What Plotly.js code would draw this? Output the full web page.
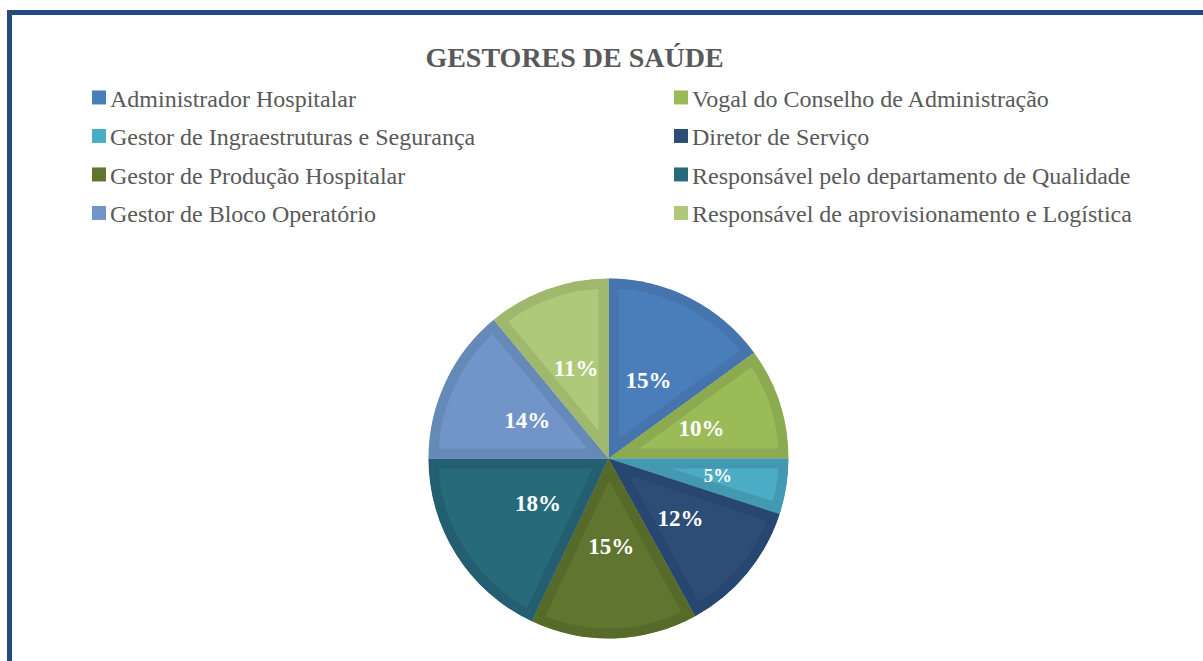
<!DOCTYPE html>
<html>
<head>
<meta charset="utf-8">
<script src="https://cdn.plot.ly/plotly-3.0.1.min.js"></script>
<style>
  html, body { margin:0; padding:0; width:1203px; height:661px; overflow:hidden; background:#fff; }
  #frame { position:absolute; left:7px; top:10px; width:1300px; height:800px; border:5px solid #264A7B; box-sizing:border-box; background:#fff; }
  #chart { position:absolute; left:0; top:0; width:1203px; height:661px; }
</style>
</head>
<body>
<div id="frame"></div>
<div id="chart"></div>
<script>
const categories = [
  "Administrador Hospitalar",
  "Vogal do Conselho de Administração",
  "Gestor de Ingraestruturas e Segurança",
  "Diretor de Serviço",
  "Gestor de Produção Hospitalar",
  "Responsável pelo departamento de Qualidade",
  "Gestor de Bloco Operatório",
  "Responsável de aprovisionamento e Logística"
];
const values = [15, 10, 5, 12, 15, 18, 14, 11];
const fillColors = ["#4A7EBB", "#9BBB59", "#4BACC6", "#2C4D75", "#5F7530", "#276A7C", "#7295C9", "#AFC97A"];
const bandColors = ["#4674AD", "#8CAA50", "#4399B1", "#284770", "#566B2A", "#235F70", "#668AB8", "#9FB86E"];

// main pie (slices + legend)
const pieTrace = {
  type: 'pie',
  labels: categories,
  values: values,
  sort: false,
  direction: 'clockwise',
  rotation: 0,
  textinfo: 'none',
  marker: { colors: fillColors, line: { color: bandColors, width: 20 } },
  domain: { x: [0.3562, 0.6554], y: [0.034, 0.5787] },
  hoverinfo: 'none'
};

// transparent inner ring of the same data carrying the percentage labels
const labelTrace = {
  type: 'pie',
  labels: categories,
  values: values,
  sort: false,
  direction: 'clockwise',
  rotation: 0,
  showlegend: false,
  texttemplate: '%{percent:.0%}',
  textposition: 'inside',
  insidetextorientation: 'horizontal',
  insidetextfont: { family: 'Liberation Serif', size: 23, color: '#FFFFFF', weight: 'bold' },
  marker: { colors: categories.map(() => 'rgba(0,0,0,0)'), line: { width: 0 } },
  domain: { x: [0.3994, 0.6122], y: [0.1127, 0.5] },
  hoverinfo: 'none'
};

const layout = {
  width: 1203, height: 661,
  margin: { l: 0, r: 0, t: 0, b: 0 },
  paper_bgcolor: 'rgba(0,0,0,0)',
  plot_bgcolor: 'rgba(0,0,0,0)',
  title: {
    text: 'GESTORES DE SAÚDE',
    x: 0.4776, xanchor: 'center', xref: 'paper',
    y: 0.914, yanchor: 'middle', yref: 'container',
    font: { family: 'Liberation Serif', size: 28, color: '#595959', weight: 'bold' }
  },
  showlegend: true,
  legend: {
    orientation: 'h',
    x: 0, xanchor: 'left',
    y: 0.886, yanchor: 'top',
    entrywidth: 537, entrywidthmode: 'pixels',
    font: { family: 'Liberation Serif', size: 24, color: '#595959' },
    bgcolor: 'rgba(0,0,0,0)'
  }
};

Plotly.newPlot('chart', [pieTrace, labelTrace], layout, { displayModeBar: false, staticPlot: true }).then(function(gd) {
  const ns = 'http://www.w3.org/2000/svg';
  const defs = gd.querySelector('svg.main-svg defs');
  // keep the darker slice outline inside each slice (Excel-style inner border)
  gd.querySelectorAll('g.pielayer g.slice path.surface').forEach(function(p, i) {
    const cp = document.createElementNS(ns, 'clipPath');
    cp.setAttribute('id', 'sliceclip' + i);
    const cpath = document.createElementNS(ns, 'path');
    cpath.setAttribute('d', p.getAttribute('d'));
    if (p.getAttribute('transform')) cpath.setAttribute('transform', p.getAttribute('transform'));
    cp.appendChild(cpath);
    defs.appendChild(cp);
    p.setAttribute('clip-path', 'url(#sliceclip' + i + ')');
  });
  // legend: square keys close to the text, wider row spacing, shifted right
  gd.querySelectorAll('g.legend g.legendpoints path').forEach(function(p) {
    p.style.strokeWidth = '0px';
    p.setAttribute('d', 'M16,7H2V-7H16Z');
  });
  const items = Array.from(gd.querySelectorAll('g.legend g.traces'));
  const parse = t => { const m = /translate\(\s*([-\d.e]+)[ ,]+([-\d.e]+)\s*\)/.exec(t || ''); return m ? [parseFloat(m[1]), parseFloat(m[2])] : [0, 0]; };
  const ys = Array.from(new Set(items.map(it => parse(it.getAttribute('transform'))[1]))).sort((a, b) => a - b);
  items.forEach(function(it) {
    const xy = parse(it.getAttribute('transform'));
    const row = ys.indexOf(xy[1]);
    it.setAttribute('transform', 'translate(' + xy[0] + ',' + (ys[0] + row * 38.5) + ')');
  });
  gd.querySelectorAll('g.legend g.scrollbox').forEach(s => s.removeAttribute('clip-path'));
  const lg = gd.querySelector('g.legend');
  const lxy = parse(lg.getAttribute('transform'));
  lg.setAttribute('transform', 'translate(' + (lxy[0] + 70) + ',' + lxy[1] + ')');
});
</script>
</body>
</html>
